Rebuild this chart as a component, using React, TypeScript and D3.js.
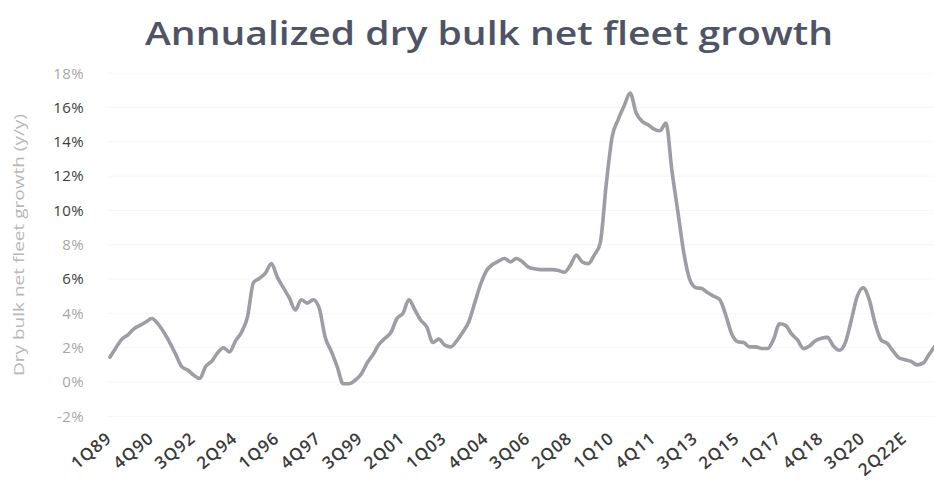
import React from "react";
import * as d3 from "d3";

const title = "Annualized dry bulk net fleet growth";
const yAxisTitle = "Dry bulk net fleet growth (y/y)";

// Quarterly net fleet growth (%), starting 1Q89
const growth: number[] = [
  1.45, 2.0, 2.5, 2.75, 3.1, 3.3, 3.5, 3.7, 3.4, 2.9,
  2.3, 1.6, 0.9, 0.7, 0.4, 0.2, 0.9, 1.2, 1.7, 2.0,
  1.75, 2.4, 2.9, 3.8, 5.8, 6.05, 6.35, 6.9, 6.1, 5.5,
  4.9, 4.2, 4.8, 4.6, 4.8, 4.3, 2.6, 1.8, 0.9, -0.1,
  -0.1, 0.1, 0.45, 1.1, 1.6, 2.2, 2.55, 2.9, 3.7, 4.0,
  4.8, 4.2, 3.6, 3.2, 2.3, 2.5, 2.15, 2.05, 2.4, 2.9,
  3.5, 4.6, 5.7, 6.5, 6.85, 7.05, 7.2, 7.0, 7.2, 7.0,
  6.7, 6.6, 6.55, 6.55, 6.55, 6.5, 6.4, 6.8, 7.4, 7.0,
  6.9, 7.4, 8.1, 11.5, 14.3, 15.3, 16.1, 16.85, 15.7, 15.2,
  15.0, 14.75, 14.65, 15.1, 12.3, 9.9, 7.5, 5.95, 5.5, 5.45,
  5.2, 5.0, 4.8, 3.9, 2.8, 2.35, 2.3, 2.05, 2.05, 1.95,
  1.95, 2.5, 3.4, 3.3, 2.8, 2.45, 1.95, 2.1, 2.4, 2.55,
  2.6, 2.1, 1.85, 2.3, 3.6, 5.0, 5.5, 4.8, 3.4, 2.45,
  2.25, 1.8, 1.4, 1.3, 1.2, 1.0, 1.1, 1.6, 2.1,
];

const xTickLabels = [
  "1Q89", "4Q90", "3Q92", "2Q94", "1Q96", "4Q97", "3Q99", "2Q01", "1Q03", "4Q04",
  "3Q06", "2Q08", "1Q10", "4Q11", "3Q13", "2Q15", "1Q17", "4Q18", "3Q20", "2Q22E",
];
const xTickStep = 7; // quarters between labels

const yTicks = [-2, 0, 2, 4, 6, 8, 10, 12, 14, 16, 18];
const yTickDark = [16, 14, 12, 10, 6];

const W = 934;
const H = 481;

export default function App() {
  const x = d3.scaleLinear().domain([0, growth.length - 1]).range([110, 935]);
  const y = d3.scaleLinear().domain([-2, 18]).range([416.3, 73.3]);

  const line = d3
    .line<number>()
    .x((_, i) => x(i))
    .y((d) => y(d))
    .curve(d3.curveMonotoneX);

  const font = "'Open Sans', 'DejaVu Sans', sans-serif";

  return (
    <div style={{ position: "fixed", left: 0, top: 0, width: W, height: H, background: "#fff" }}>
      <svg width={W} height={H} style={{ display: "block" }}>
        <rect x={0} y={0} width={W} height={H} fill="#fff" />
        <text
          x={489}
          y={45}
          textAnchor="middle"
          fontFamily={font}
          fontSize={33}
          fontWeight={600}
          fill="#4e5466"
          textLength={688}
          lengthAdjust="spacingAndGlyphs"
        >
          {title}
        </text>

        {yTicks.map((t) => (
          <line
            key={"g" + t}
            x1={108}
            x2={934}
            y1={y(t)}
            y2={y(t)}
            stroke="#f6f6f6"
            strokeWidth={1}
          />
        ))}

        {yTicks.map((t) => (
          <text
            key={"t" + t}
            x={84}
            y={y(t)}
            dy="0.35em"
            textAnchor="end"
            fontFamily={font}
            fontSize={15}
            letterSpacing={0.4}
            fill={yTickDark.includes(t) ? "#3c3c3c" : "#a8a8a8"}
          >
            {t + "%"}
          </text>
        ))}

        <text
          transform={`translate(24, 245) rotate(-90)`}
          textAnchor="middle"
          fontFamily={font}
          fontSize={15}
          fill="#b8b8b8"
          textLength={262}
          lengthAdjust="spacingAndGlyphs"
        >
          {yAxisTitle}
        </text>

        {xTickLabels.map((lab, k) => (
          <text
            key={lab}
            transform={`translate(${x(k * xTickStep) + 3}, 440) rotate(-40)`}
            textAnchor="end"
            fontFamily={font}
            fontSize={17}
            fontWeight={600}
            letterSpacing={1}
            fill="#3a3a3a"
          >
            {lab}
          </text>
        ))}

        <path
          d={line(growth) || ""}
          fill="none"
          stroke="#9c9da5"
          strokeWidth={3.6}
          strokeLinejoin="round"
          strokeLinecap="round"
        />
      </svg>
    </div>
  );
}
